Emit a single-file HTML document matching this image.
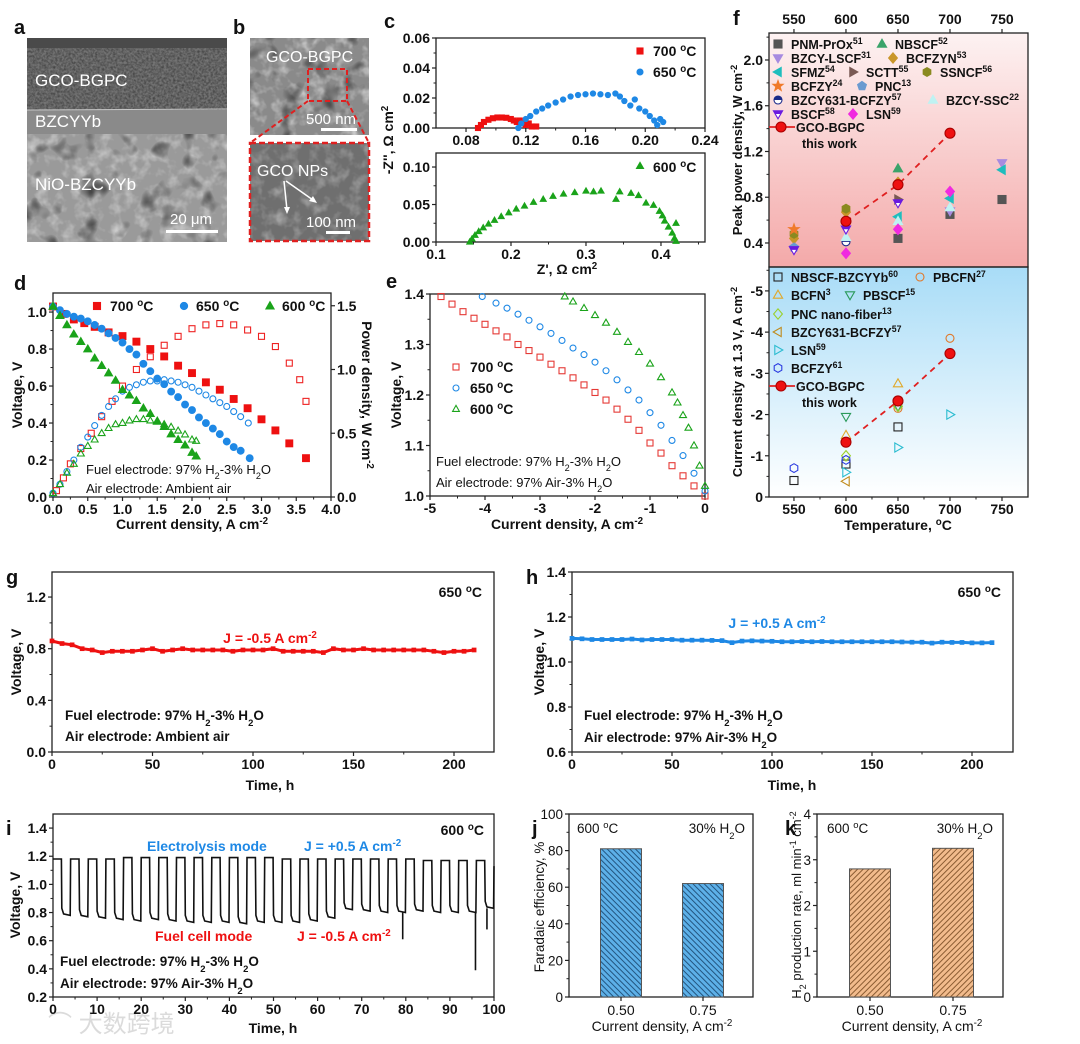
<!DOCTYPE html>
<html><head><meta charset="utf-8">
<style>
body{margin:0;background:#fff}
svg{display:block;font-family:"Liberation Sans",Arial,"Noto Sans CJK SC",sans-serif}
</style></head>
<body>
<svg id="fig" width="1080" height="1044" viewBox="0 0 1080 1044">
<defs>
 <filter id="fine" x="0" y="0" width="100%" height="100%"><feTurbulence type="fractalNoise" baseFrequency="0.45" numOctaves="2" seed="3"/><feColorMatrix type="matrix" values="0 0 0 0 0  0 0 0 0 0  0 0 0 0 0  0 0 0 -1.4 1.0"/></filter>
 <filter id="coarse" x="0" y="0" width="100%" height="100%"><feTurbulence type="fractalNoise" baseFrequency="0.08" numOctaves="3" seed="9"/><feColorMatrix type="matrix" values="0 0 0 0 1  0 0 0 0 1  0 0 0 0 1  0 0 0 -2.2 1.2"/></filter>
 <filter id="pores" x="0" y="0" width="100%" height="100%"><feTurbulence type="fractalNoise" baseFrequency="0.05" numOctaves="2" seed="21"/><feColorMatrix type="matrix" values="0 0 0 0 0  0 0 0 0 0  0 0 0 0 0  0 0 0 3 -1.7"/></filter>
 <linearGradient id="pinkg" x1="0" y1="0" x2="0" y2="1"><stop offset="0" stop-color="#fdf2f2"/><stop offset="1" stop-color="#f4a9a9"/></linearGradient>
 <linearGradient id="blueg" x1="0" y1="0" x2="0" y2="1"><stop offset="0" stop-color="#a8dcf7"/><stop offset="1" stop-color="#ffffff"/></linearGradient>
 <pattern id="hatchBlue" width="4" height="4" patternUnits="userSpaceOnUse" patternTransform="rotate(-45)"><rect width="4" height="4" fill="#5db0e8"/><line x1="1" y1="0" x2="1" y2="4" stroke="#23557f" stroke-width="1"/></pattern>
 <pattern id="hatchOrange" width="4" height="4" patternUnits="userSpaceOnUse" patternTransform="rotate(45)"><rect width="4" height="4" fill="#f2bb8c"/><line x1="1" y1="0" x2="1" y2="4" stroke="#8a5b32" stroke-width="1"/></pattern>
</defs>

<g>
 <rect x="27" y="38" width="200" height="204" fill="#8e8e8e"/>
 <rect x="27" y="38" width="200" height="10" fill="#4a4a4a"/>
 <rect x="27" y="48" width="200" height="62" fill="#747474"/>
 <rect x="27" y="110" width="200" height="24" fill="#8a8a8a"/>
 <rect x="27" y="134" width="200" height="108" fill="#9a9a9a"/>
 <rect x="27" y="48" width="200" height="62" filter="url(#fine)" opacity="0.5"/>
 <rect x="27" y="134" width="200" height="108" filter="url(#coarse)" opacity="0.5"/>
 <rect x="27" y="134" width="200" height="108" filter="url(#pores)" opacity="0.7"/>
 <line x1="27" y1="110" x2="227" y2="109" stroke="#c8c8c8" stroke-width="1"/>
 <text x="35" y="86" font-size="17" fill="#fff">GCO-BGPC</text>
 <text x="35" y="127" font-size="17" fill="#fff">BZCYYb</text>
 <text x="35" y="190" font-size="17" fill="#fff">NiO-BZCYYb</text>
 <text x="170" y="224" font-size="15" fill="#fff">20 μm</text>
 <rect x="166" y="230" width="52" height="3" fill="#fff"/>
</g>
<g>
 <rect x="250" y="38" width="119" height="97" fill="#8a8a8a"/>
 <rect x="250" y="38" width="119" height="97" filter="url(#coarse)" opacity="0.6"/>
 <rect x="250" y="38" width="119" height="97" filter="url(#pores)" opacity="0.6"/>
 <text x="266" y="62" font-size="16" fill="#fff">GCO-BGPC</text>
 <rect x="308" y="69" width="39" height="32" fill="none" stroke="#e02020" stroke-width="2" stroke-dasharray="5,3"/>
 <text x="306" y="124" font-size="15" fill="#fff">500 nm</text>
 <rect x="321" y="128" width="36" height="3" fill="#fff"/>
 <line x1="308" y1="101" x2="250" y2="143" stroke="#e02020" stroke-width="2" stroke-dasharray="5,3"/>
 <line x1="347" y1="101" x2="369" y2="143" stroke="#e02020" stroke-width="2" stroke-dasharray="5,3"/>
 <rect x="250" y="143" width="119" height="98" fill="#6f6f6f"/>
 <rect x="250" y="143" width="119" height="98" filter="url(#coarse)" opacity="0.35"/>
 <rect x="250" y="143" width="119" height="98" fill="none" stroke="#e02020" stroke-width="2.5" stroke-dasharray="6,3"/>
 <text x="257" y="176" font-size="16" fill="#fff">GCO NPs</text>
 <line x1="284" y1="181" x2="287" y2="210" stroke="#fff" stroke-width="1.5"/>
 <polygon points="287,214 284,207 290,207" fill="#fff"/>
 <line x1="286" y1="181" x2="313" y2="200" stroke="#fff" stroke-width="1.5"/>
 <polygon points="317,203 309,201 313,196" fill="#fff"/>
 <text x="306" y="227" font-size="15" fill="#fff">100 nm</text>
 <rect x="326" y="231" width="24" height="3" fill="#fff"/>
</g>
<g font-weight="bold" font-size="20" fill="#111">
 <text x="14" y="34">a</text>
 <text x="233" y="34">b</text>
 <text x="384" y="28">c</text>
 <text x="14" y="290">d</text>
 <text x="386" y="288">e</text>
 <text x="733" y="25">f</text>
 <text x="6" y="584">g</text>
 <text x="526" y="584">h</text>
 <text x="6" y="835">i</text>
 <text x="532" y="835">j</text>
 <text x="785" y="835">k</text>
</g>
<text x="48" y="1032" font-size="24" fill="#ccc" opacity="0.7">⌒ 大数跨境</text>
</svg>

<script>
const c700Z=[0.088,0.09,0.092,0.095,0.098,0.101,0.104,0.107,0.11,0.112,0.114,0.116,0.118,0.12,0.122,0.124,0.127];
const c700Y=[0.0,0.002,0.004,0.0055,0.0065,0.007,0.007,0.0068,0.006,0.005,0.004,0.005,0.003,0.002,0.003,0.001,0.001];
const c650Z=[0.115,0.117,0.12,0.123,0.127,0.131,0.135,0.14,0.145,0.15,0.155,0.16,0.165,0.17,0.175,0.18,0.183,0.186,0.19,0.193,0.196,0.2,0.203,0.206,0.208,0.21,0.212];
const c650Y=[0,0.003,0.006,0.008,0.011,0.013,0.015,0.017,0.019,0.021,0.022,0.0225,0.023,0.0225,0.022,0.023,0.021,0.018,0.015,0.019,0.013,0.011,0.008,0.005,0.002,0.006,0.004];
const c600Z=[0.145,0.148,0.152,0.157,0.163,0.17,0.178,0.187,0.197,0.207,0.218,0.23,0.243,0.256,0.27,0.285,0.3,0.31,0.32,0.34,0.345,0.36,0.37,0.38,0.39,0.398,0.402,0.405,0.41,0.415,0.418,0.42,0.42];
const c600Y=[0,0.004,0.009,0.014,0.019,0.024,0.029,0.034,0.039,0.044,0.048,0.053,0.057,0.061,0.064,0.066,0.068,0.067,0.068,0.057,0.067,0.065,0.062,0.052,0.049,0.041,0.035,0.028,0.02,0.012,0.005,0.025,0.001];
const dI700=[0,0.15,0.3,0.45,0.6,0.8,1.0,1.2,1.4,1.6,1.8,2.0,2.2,2.4,2.6,2.8,3.0,3.2,3.4,3.64];
const dV700=[1.03,0.99,0.96,0.94,0.92,0.89,0.87,0.84,0.80,0.76,0.71,0.67,0.62,0.58,0.53,0.48,0.42,0.36,0.29,0.21];
const dI650=[0,0.1,0.2,0.3,0.4,0.5,0.6,0.7,0.8,0.9,1.0,1.1,1.2,1.3,1.4,1.5,1.6,1.7,1.8,1.9,2.0,2.1,2.2,2.3,2.4,2.5,2.6,2.7,2.83];
const dV650=[1.03,1.01,0.99,0.975,0.965,0.95,0.93,0.91,0.885,0.86,0.835,0.80,0.77,0.72,0.68,0.64,0.61,0.57,0.54,0.50,0.47,0.43,0.40,0.37,0.34,0.30,0.27,0.25,0.21];
const dI600=[0,0.1,0.2,0.3,0.4,0.5,0.6,0.7,0.8,0.9,1.0,1.1,1.2,1.3,1.4,1.5,1.6,1.7,1.8,1.9,2.0,2.06];
const dV600=[1.03,0.98,0.93,0.88,0.84,0.80,0.75,0.71,0.67,0.63,0.58,0.55,0.52,0.48,0.45,0.41,0.38,0.34,0.31,0.28,0.24,0.22];
const dPI700=[0.05,0.15,0.25,0.4,0.55,0.7,0.85,1.0,1.2,1.4,1.6,1.8,2.0,2.2,2.4,2.6,2.8,3.0,3.2,3.4,3.55,3.64];
const dP700=[0.05,0.15,0.26,0.38,0.5,0.63,0.75,0.87,1.0,1.1,1.19,1.26,1.32,1.35,1.36,1.35,1.31,1.26,1.18,1.05,0.92,0.75];
const dPI650=[0,0.1,0.2,0.3,0.4,0.5,0.6,0.7,0.8,0.9,1.0,1.1,1.2,1.3,1.4,1.5,1.6,1.7,1.8,1.9,2.0,2.1,2.2,2.3,2.4,2.5,2.6,2.7,2.81];
const dP650=[0.03,0.10,0.20,0.29,0.39,0.47,0.56,0.64,0.71,0.77,0.83,0.86,0.88,0.90,0.91,0.91,0.92,0.91,0.90,0.88,0.86,0.83,0.80,0.77,0.74,0.71,0.67,0.63,0.58];
const dPI600=[0,0.1,0.2,0.3,0.4,0.5,0.6,0.7,0.8,0.9,1.0,1.1,1.2,1.3,1.4,1.5,1.6,1.7,1.8,1.9,2.0,2.06];
const dP600=[0.03,0.10,0.19,0.26,0.34,0.40,0.45,0.50,0.54,0.57,0.58,0.60,0.61,0.61,0.60,0.59,0.57,0.55,0.52,0.49,0.45,0.44];
const eI700=[-4.8,-4.6,-4.4,-4.2,-4.0,-3.8,-3.6,-3.4,-3.2,-3.0,-2.8,-2.6,-2.4,-2.2,-2.0,-1.8,-1.6,-1.4,-1.2,-1.0,-0.8,-0.6,-0.4,-0.2,0];
const eV700=[1.395,1.38,1.365,1.352,1.34,1.327,1.315,1.30,1.288,1.275,1.261,1.248,1.234,1.22,1.205,1.19,1.172,1.152,1.13,1.105,1.085,1.06,1.04,1.02,1.00];
const eI650=[-4.05,-3.8,-3.6,-3.4,-3.2,-3.0,-2.8,-2.6,-2.4,-2.2,-2.0,-1.8,-1.6,-1.4,-1.2,-1.0,-0.8,-0.6,-0.4,-0.2,0];
const eV650=[1.395,1.382,1.372,1.36,1.348,1.335,1.322,1.308,1.293,1.28,1.265,1.248,1.23,1.21,1.19,1.165,1.14,1.11,1.08,1.045,1.01];
const eI600=[-2.55,-2.4,-2.2,-2.0,-1.8,-1.6,-1.4,-1.2,-1.0,-0.8,-0.6,-0.5,-0.4,-0.3,-0.2,-0.1,0];
const eV600=[1.395,1.385,1.372,1.358,1.343,1.325,1.305,1.285,1.262,1.235,1.205,1.185,1.16,1.135,1.10,1.06,1.02];
const fPnmT=[650,700,750], fPnmV=[0.44,0.65,0.78];
const fNbscfT=[650], fNbscfV=[1.05];
const fBzcyLscfT=[700,750], fBzcyLscfV=[0.68,1.10];
const fBcfzynT=[550,600,650], fBcfzynV=[0.44,0.67,0.93];
const fSfmzT=[650,700,750], fSfmzV=[0.63,0.79,1.04];
const fScttT=[650], fScttV=[0.78];
const fSsncfT=[550,600], fSsncfV=[0.48,0.70];
const fBcfzyT=[550], fBcfzyV=[0.52];
const fPncT=[550], fPncV=[0.36];
const fBzcy631T=[600], fBzcy631V=[0.41];
const fBzcySscT=[600,650,700], fBzcySscV=[0.45,0.59,0.71];
const fBscfT=[550,600,650], fBscfV=[0.34,0.52,0.75];
const fLsnT=[600,650,700], fLsnV=[0.31,0.52,0.85];
const fGcoT=[600,650,700], fGcoV=[0.59,0.91,1.36];
const fbNbscfT=[550,600,650], fbNbscfV=[-0.4,-0.8,-1.7];
const fbPbcfnT=[650,700], fbPbcfnV=[-2.15,-3.85];
const fbBcfnT=[600,650], fbBcfnV=[-1.5,-2.75];
const fbPbscfT=[600,650], fbPbscfV=[-1.95,-2.2];
const fbPncT=[600,650], fbPncV=[-1.0,-2.2];
const fbBzcyT=[600], fbBzcyV=[-0.38];
const fbLsnT=[600,650,700], fbLsnV=[-0.6,-1.2,-2.0];
const fbBcfzyT=[550,600], fbBcfzyV=[-0.7,-0.9];
const fbGcoT=[600,650,700], fbGcoV=[-1.33,-2.33,-3.48];
const gTime=[0,5,10,15,20,25,30,35,40,45,50,55,60,65,70,75,80,85,90,95,100,105,110,115,120,125,130,135,140,145,150,155,160,165,170,175,180,185,190,195,200,205,210];
const gV=[0.86,0.84,0.83,0.80,0.79,0.77,0.78,0.78,0.78,0.79,0.80,0.78,0.79,0.80,0.79,0.79,0.79,0.79,0.78,0.79,0.79,0.79,0.80,0.78,0.78,0.78,0.78,0.77,0.80,0.79,0.79,0.80,0.79,0.79,0.79,0.79,0.79,0.79,0.78,0.77,0.78,0.78,0.79];
const hTime=gTime;
const hV=[1.105,1.103,1.10,1.10,1.10,1.10,1.102,1.098,1.10,1.10,1.10,1.097,1.097,1.097,1.096,1.095,1.086,1.093,1.094,1.093,1.092,1.09,1.09,1.091,1.09,1.091,1.09,1.09,1.09,1.09,1.09,1.09,1.09,1.089,1.088,1.088,1.084,1.088,1.087,1.087,1.085,1.085,1.086];
const iHigh=[1.18,1.18,1.18,1.18,1.19,1.19,1.19,1.19,1.19,1.19,1.19,1.19,1.19,1.18,1.18,1.18,1.18,1.18,1.18,1.18,1.18,1.17,1.17,1.17,1.17];
const iLow=[0.78,0.77,0.76,0.75,0.74,0.75,0.74,0.73,0.73,0.73,0.72,0.73,0.73,0.73,0.74,0.76,0.82,0.81,0.80,0.80,0.81,0.80,0.80,0.80,0.83];
const iSpikeT=[79.3,95.8,98.4];
const iSpikeV=[0.61,0.39,0.68];
const jCats=['0.50','0.75'];
const jVals=[81,62];
const kCats=['0.50','0.75'];
const kVals=[2.8,3.25];
const dXTicks=[0,0.5,1,1.5,2,2.5,3,3.5,4], dXLabels=['0.0','0.5','1.0','1.5','2.0','2.5','3.0','3.5','4.0'];
const dYTicks=[0,0.2,0.4,0.6,0.8,1.0], dYLabels=['0.0','0.2','0.4','0.6','0.8','1.0'];
const dY2Ticks=[0,0.5,1.0,1.5], dY2Labels=['0.0','0.5','1.0','1.5'];
const eXTicks=[-5,-4,-3,-2,-1,0], eXLabels=['-5','-4','-3','-2','-1','0'];
const eYTicks=[1.0,1.1,1.2,1.3,1.4], eYLabels=['1.0','1.1','1.2','1.3','1.4'];
const cTopXTicks=[0.08,0.12,0.16,0.2,0.24], cTopXLabels=['0.08','0.12','0.16','0.20','0.24'];
const cTopYTicks=[0,0.02,0.04,0.06], cTopYLabels=['0.00','0.02','0.04','0.06'];
const cBotXTicks=[0.1,0.2,0.3,0.4], cBotXLabels=['0.1','0.2','0.3','0.4'];
const cBotYTicks=[0,0.05,0.1], cBotYLabels=['0.00','0.05','0.10'];
const fXTicks=[550,600,650,700,750], fXLabels=['550','600','650','700','750'];
const fTopYTicks=[0.4,0.8,1.2,1.6,2.0], fTopYLabels=['0.4','0.8','1.2','1.6','2.0'];
const fBotYTicks=[0,-1,-2,-3,-4,-5], fBotYLabels=['0','-1','-2','-3','-4','-5'];
const gXTicks=[0,50,100,150,200], gXLabels=['0','50','100','150','200'];
const gYTicks=[0,0.4,0.8,1.2], gYLabels=['0.0','0.4','0.8','1.2'];
const hYTicks=[0.6,0.8,1.0,1.2,1.4], hYLabels=['0.6','0.8','1.0','1.2','1.4'];
const iXTicks=[0,10,20,30,40,50,60,70,80,90,100], iXLabels=['0','10','20','30','40','50','60','70','80','90','100'];
const iYTicks=[0.2,0.4,0.6,0.8,1.0,1.2,1.4], iYLabels=['0.2','0.4','0.6','0.8','1.0','1.2','1.4'];
const jYTicks=[0,20,40,60,80,100], jYLabels=['0','20','40','60','80','100'];
const kYTicks=[0,1,2,3,4], kYLabels=['0','1','2','3','4'];

const NS='http://www.w3.org/2000/svg';
const fig=document.getElementById('fig');
function mk(tag,attrs,name,parent){
  const e=document.createElementNS(NS,tag);
  for(const k in attrs) e.setAttribute(k,attrs[k]);
  
  
  (parent||fig).appendChild(e);
  return e;
}
function tx(x,y,html,size,name,opt){
  opt=opt||{};
  const a={x:x,y:y,'font-size':size,'font-weight':opt.w||'bold','text-anchor':opt.a||'start',fill:opt.fill||'#111'};
  if(opt.rot) a.transform='rotate('+opt.rot+' '+x+' '+y+')';
  const e=mk('text',a,name,opt.parent);
  e.innerHTML=html;
  return e;
}
const SUP=s=>'<tspan baseline-shift="super" font-size="70%">'+s+'</tspan>';
const SUB=s=>'<tspan baseline-shift="sub" font-size="70%">'+s+'</tspan>';
function axis(c){
  const sx=v=>c.x0+(v-c.xd[0])/(c.xd[1]-c.xd[0])*(c.x1-c.x0);
  const sy=v=>c.y1-(v-c.yd[0])/(c.yd[1]-c.yd[0])*(c.y1-c.y0);
  const g=mk('g',{},c.name+'-axes');
  mk('rect',{x:c.x0,y:c.y0,width:c.x1-c.x0,height:c.y1-c.y0,fill:'none',stroke:'#222','stroke-width':1.3},c.name+'-frame',g);
  const fs=c.fs||14;
  const yw=c.yw||'bold';
  (c.xt||[]).forEach((v,i)=>{const X=sx(v);
    mk('line',{x1:X,x2:X,y1:c.y1,y2:c.y1+4,stroke:'#222','stroke-width':1.2},c.name+'-x-tick',g);
    if(c.xl) tx(X,c.y1+17,c.xl[i],fs,c.name+'-x-tick-label',{a:'middle',parent:g});
    if(c.xm){const X2=sx(v+c.xm); if(X2<c.x1-1) mk('line',{x1:X2,x2:X2,y1:c.y1,y2:c.y1+2.5,stroke:'#222'},c.name+'-x-minor-tick',g);}
  });
  (c.yt||[]).forEach((v,i)=>{const Y=sy(v);
    mk('line',{x1:c.x0-4,x2:c.x0,y1:Y,y2:Y,stroke:'#222','stroke-width':1.2},c.name+'-y-tick',g);
    tx(c.x0-6,Y+5,c.yl[i],fs,c.name+'-y-tick-label',{a:'end',parent:g,w:yw});
    if(c.ym){const Y2=sy(v+c.ym); if(Y2>c.y0+1) mk('line',{x1:c.x0-2.5,x2:c.x0,y1:Y2,y2:Y2,stroke:'#222'},c.name+'-y-minor-tick',g);}
  });
  return {sx,sy};
}
function mark(shape,x,y,r,fill,stroke,name){
  const sw=1.1;
  let p;
  if(shape==='sq') return mk('rect',{x:x-r,y:y-r,width:2*r,height:2*r,fill:fill,stroke:stroke,'stroke-width':sw},name);
  if(shape==='ci') return mk('circle',{cx:x,cy:y,r:r,fill:fill,stroke:stroke,'stroke-width':sw},name);
  if(shape==='tu') p=[[x,y-r*1.2],[x-r*1.15,y+r*0.8],[x+r*1.15,y+r*0.8]];
  if(shape==='td') p=[[x,y+r*1.2],[x-r*1.15,y-r*0.8],[x+r*1.15,y-r*0.8]];
  if(shape==='tl') p=[[x-r*1.2,y],[x+r*0.8,y-r*1.15],[x+r*0.8,y+r*1.15]];
  if(shape==='tr') p=[[x+r*1.2,y],[x-r*0.8,y-r*1.15],[x-r*0.8,y+r*1.15]];
  if(shape==='di') p=[[x,y-r*1.3],[x+r*1.1,y],[x,y+r*1.3],[x-r*1.1,y]];
  if(shape==='hx'){p=[];for(let k=0;k<6;k++){const a=Math.PI/3*k+Math.PI/6;p.push([x+r*1.1*Math.cos(a),y+r*1.1*Math.sin(a)]);}}
  if(shape==='pe'){p=[];for(let k=0;k<5;k++){const a=-Math.PI/2+2*Math.PI/5*k;p.push([x+r*1.15*Math.cos(a),y+r*1.15*Math.sin(a)]);}}
  if(shape==='st'){p=[];for(let k=0;k<10;k++){const a=-Math.PI/2+Math.PI/5*k;const rr=k%2?r*0.55:r*1.35;p.push([x+rr*Math.cos(a),y+rr*Math.sin(a)]);}}
  if(shape==='hc'){
    const g=mk('g',{},name);
    mk('circle',{cx:x,cy:y,r:r,fill:'#fff',stroke:stroke,'stroke-width':sw},name+'-outline',g);
    mk('path',{d:`M${x-r} ${y} A${r} ${r} 0 0 1 ${x+r} ${y} Z`,fill:fill},name+'-half',g);
    return g;
  }
  if(shape==='ht'){
    const g=mk('g',{},name);
    mk('polygon',{points:`${x},${y+r*1.2} ${x-r*1.15},${y-r*0.8} ${x+r*1.15},${y-r*0.8}`,fill:'#fff',stroke:stroke,'stroke-width':sw},name+'-outline',g);
    mk('polygon',{points:`${x-r*1.15},${y-r*0.8} ${x+r*1.15},${y-r*0.8} ${x+r*0.6},${y} ${x-r*0.6},${y}`,fill:fill},name+'-half',g);
    return g;
  }
  return mk('polygon',{points:p.map(q=>q[0].toFixed(1)+','+q[1].toFixed(1)).join(' '),fill:fill,stroke:stroke,'stroke-width':sw},name);
}
function series(ax,xs,ys,shape,r,fill,stroke,name){
  xs.forEach((v,i)=>{ mark(shape,ax.sx(v),ax.sy(ys[i]),r,fill,stroke,name+'-point'); });
}

// panel c
const cTop=axis({name:'panel-c-top',x0:436,x1:705,y0:38,y1:128,xd:[0.0599,0.24],yd:[0,0.06],xt:cTopXTicks,xl:cTopXLabels,xm:0.02,yt:cTopYTicks,yl:cTopYLabels,ym:0.01});
series(cTop,c700Z,c700Y,'sq',2.5,'#ee1111','#ee1111','nyquist-700');
series(cTop,c650Z,c650Y,'ci',2.6,'#1e88e5','#1e88e5','nyquist-650');
mark('sq',640,51,3,'#ee1111','#ee1111','legend-c-700-marker');
tx(653,56,'700 '+SUP('o')+'C',14,'legend-c-700');
mark('ci',640,72,3,'#1e88e5','#1e88e5','legend-c-650-marker');
tx(653,77,'650 '+SUP('o')+'C',14,'legend-c-650');
const cBot=axis({name:'panel-c-bottom',x0:436,x1:705,y0:153,y1:242,xd:[0.1,0.4587],yd:[0,0.1187],xt:cBotXTicks,xl:cBotXLabels,xm:0.05,yt:cBotYTicks,yl:cBotYLabels,ym:0.025});
series(cBot,c600Z,c600Y,'tu',2.6,'#1aa31a','#1aa31a','nyquist-600');
mark('tu',640,166,3,'#1aa31a','#1aa31a','legend-c-600-marker');
tx(653,172,'600 '+SUP('o')+'C',14,'legend-c-600');
tx(393,140,'-Z\'\', Ω cm'+SUP('2'),14,'c-y-axis-title',{a:'middle',rot:-90});
tx(567,274,'Z\', Ω cm'+SUP('2'),14,'c-x-axis-title',{a:'middle'});

// panel d
const dAx=axis({name:'panel-d',x0:53,x1:331,y0:293,y1:497,xd:[0,4],yd:[0,1.103],xt:dXTicks,xl:dXLabels,xm:0.25,yt:dYTicks,yl:dYLabels,ym:0.1});
const dP={sx:dAx.sx,sy:v=>497-v*127.5};
dY2Ticks.forEach((v,i)=>{const Y=dP.sy(v);
  mk('line',{x1:331,x2:335,y1:Y,y2:Y,stroke:'#222','stroke-width':1.2},'panel-d-y2-tick');
  tx(337,Y+5,dY2Labels[i],14,'panel-d-y2-tick-label');
});
series(dP,dPI700,dP700,'sq',3,'none','#ee2222','power-700');
series(dP,dPI650,dP650,'ci',3,'none','#1e88e5','power-650');
series(dP,dPI600,dP600,'tu',3,'none','#1aa31a','power-600');
series(dAx,dI700,dV700,'sq',3.4,'#ee1111','#ee1111','iv-700');
series(dAx,dI650,dV650,'ci',3.4,'#1e88e5','#1e88e5','iv-650');
series(dAx,dI600,dV600,'tu',3.4,'#1aa31a','#1aa31a','iv-600');
mark('sq',97,306,3.5,'#ee1111','#ee1111','legend-d-700-marker');
tx(110,311,'700 '+SUP('o')+'C',14,'legend-d-700');
mark('ci',184,306,3.6,'#1e88e5','#1e88e5','legend-d-650-marker');
tx(196,311,'650 '+SUP('o')+'C',14,'legend-d-650');
mark('tu',270,306,3.6,'#1aa31a','#1aa31a','legend-d-600-marker');
tx(282,311,'600 '+SUP('o')+'C',14,'legend-d-600');
tx(86,474,'Fuel electrode: 97% H'+SUB('2')+'-3% H'+SUB('2')+'O',13,'d-fuel-electrode-note',{w:'normal'});
tx(86,493,'Air electrode: Ambient air',13,'d-air-electrode-note',{w:'normal'});
tx(22,395,'Voltage, V',14,'d-y-axis-title',{a:'middle',rot:-90});
tx(362,395,'Power density, W cm'+SUP('-2'),14,'d-y2-axis-title',{a:'middle',rot:90});
tx(192,529,'Current density, A cm'+SUP('-2'),14,'d-x-axis-title',{a:'middle'});

// panel e
const eAx=axis({name:'panel-e',x0:430,x1:705,y0:294,y1:496,xd:[-5,0],yd:[1.0,1.4],xt:eXTicks,xl:eXLabels,xm:0.5,yt:eYTicks,yl:eYLabels,ym:0.05});
series(eAx,eI700,eV700,'sq',3,'none','#e53935','elec-700');
series(eAx,eI650,eV650,'ci',3,'none','#1e88e5','elec-650');
series(eAx,eI600,eV600,'tu',3,'none','#1aa31a','elec-600');
mark('sq',456,367,3,'none','#e53935','legend-e-700-marker');
tx(470,372,'700 '+SUP('o')+'C',14,'legend-e-700');
mark('ci',456,388,3,'none','#1e88e5','legend-e-650-marker');
tx(470,393,'650 '+SUP('o')+'C',14,'legend-e-650');
mark('tu',456,409,3,'none','#1aa31a','legend-e-600-marker');
tx(470,414,'600 '+SUP('o')+'C',14,'legend-e-600');
tx(436,466,'Fuel electrode: 97% H'+SUB('2')+'-3% H'+SUB('2')+'O',13,'e-fuel-electrode-note',{w:'normal'});
tx(436,487,'Air electrode: 97% Air-3% H'+SUB('2')+'O',13,'e-air-electrode-note',{w:'normal'});
tx(401,395,'Voltage, V',14,'e-y-axis-title',{a:'middle',rot:-90});
tx(567,529,'Current density, A cm'+SUP('-2'),14,'e-x-axis-title',{a:'middle'});

// panel f
mk('rect',{x:769,y:33,width:259,height:234,fill:'url(#pinkg)'},'f-top-background');
mk('rect',{x:769,y:267,width:259,height:230,fill:'url(#blueg)'},'f-bottom-background');
const fTop=axis({name:'panel-f-top',x0:769,x1:1028,y0:33,y1:267,xd:[526,775],yd:[0.19,2.236],yt:fTopYTicks,yl:fTopYLabels,ym:0.2});
const fBot=axis({name:'panel-f-bottom',x0:769,x1:1028,y0:267,y1:497,xd:[526,775],yd:[0,-5.58],xt:fXTicks,xl:fXLabels,xm:25,yt:fBotYTicks,yl:fBotYLabels,ym:-0.5});
fXTicks.forEach((v,i)=>{const X=fTop.sx(v);
  mk('line',{x1:X,x2:X,y1:33,y2:29,stroke:'#222','stroke-width':1.2},'panel-f-top-x-tick');
  tx(X,24,fXLabels[i],14,'panel-f-top-x-tick-label',{a:'middle'});
});
const fTopSeries=[
 [fPnmT,fPnmV,'sq','#555','#555','pnm-prox','PNM-PrOx'+SUP('51'),778,44],
 [fNbscfT,fNbscfV,'tu','#3aa36a','#3aa36a','nbscf','NBSCF'+SUP('52'),882,44],
 [fBzcyLscfT,fBzcyLscfV,'td','#a78be0','#a78be0','bzcy-lscf','BZCY-LSCF'+SUP('31'),778,58],
 [fBcfzynT,fBcfzynV,'di','#c9962a','#c9962a','bcfzyn','BCFZYN'+SUP('53'),893,58],
 [fSfmzT,fSfmzV,'tl','#1fbdbd','#1fbdbd','sfmz','SFMZ'+SUP('54'),778,72],
 [fScttT,fScttV,'tr','#7a5a55','#7a5a55','sctt','SCTT'+SUP('55'),853,72],
 [fSsncfT,fSsncfV,'hx','#8a8a20','#8a8a20','ssncf','SSNCF'+SUP('56'),927,72],
 [fBcfzyT,fBcfzyV,'st','#f07a2a','#f07a2a','bcfzy','BCFZY'+SUP('24'),778,86],
 [fPncT,fPncV,'pe','#6a9ad0','#6a9ad0','pnc','PNC'+SUP('13'),862,86],
 [fBzcy631T,fBzcy631V,'hc','#1a2a8a','#1a2a8a','bzcy631-bcfzy','BZCY631-BCFZY'+SUP('57'),778,100],
 [fBzcySscT,fBzcySscV,'tu','#bff2f2','#bff2f2','bzcy-ssc','BZCY-SSC'+SUP('22'),933,100],
 [fBscfT,fBscfV,'ht','#6a1ae0','#6a1ae0','bscf','BSCF'+SUP('58'),778,114],
 [fLsnT,fLsnV,'di','#f02ae0','#f02ae0','lsn','LSN'+SUP('59'),853,114]
];
fTopSeries.forEach(s=>{
  series(fTop,s[0],s[1],s[2],4,s[3],s[4],'f-top-'+s[5]);
  mark(s[2],s[7],s[8],4,s[3],s[4],'legend-f-'+s[5]+'-marker');
  tx(s[7]+13,s[8]+5,s[6],12.5,'legend-f-'+s[5]);
});
let gp=fGcoT.map((t,i)=>(i?'L':'M')+fTop.sx(t).toFixed(1)+' '+fTop.sy(fGcoV[i]).toFixed(1)).join(' ');
mk('path',{d:gp,fill:'none',stroke:'#e02020','stroke-width':1.8,'stroke-dasharray':'6,5'},'f-top-gco-trend-line');
series(fTop,fGcoT,fGcoV,'ci',5,'#ee1111','#a00','f-top-gco-bgpc');
mk('line',{x1:769,x2:795,y1:127,y2:127,stroke:'#e02020','stroke-width':1.8},'legend-f-gco-line');
mark('ci',781,127,5,'#ee1111','#a00','legend-f-gco-marker');
tx(796,132,'GCO-BGPC',12.5,'legend-f-gco');
tx(802,148,'this work',12.5,'legend-f-gco-this-work');
const fBotSeries=[
 [fbNbscfT,fbNbscfV,'sq','none','#222','nbscf-bzcyyb','NBSCF-BZCYYb'+SUP('60'),778,277],
 [fbPbcfnT,fbPbcfnV,'ci','none','#e0782a','pbcfn','PBCFN'+SUP('27'),920,277],
 [fbBcfnT,fbBcfnV,'tu','none','#e0a82a','bcfn','BCFN'+SUP('3'),778,295],
 [fbPbscfT,fbPbscfV,'td','none','#2a9a5a','pbscf','PBSCF'+SUP('15'),850,295],
 [fbPncT,fbPncV,'di','none','#9ad02a','pnc-nanofiber','PNC nano-fiber'+SUP('13'),778,314],
 [fbBzcyT,fbBzcyV,'tl','none','#c08a1a','bzcy631-bcfzy-b','BZCY631-BCFZY'+SUP('57'),778,332],
 [fbLsnT,fbLsnV,'tr','none','#2abcd0','lsn-b','LSN'+SUP('59'),778,350],
 [fbBcfzyT,fbBcfzyV,'hx','none','#2a3ae0','bcfzy-b','BCFZY'+SUP('61'),778,368]
];
fBotSeries.forEach(s=>{
  series(fBot,s[0],s[1],s[2],4,s[3],s[4],'f-bottom-'+s[5]);
  mark(s[2],s[7],s[8],4,s[3],s[4],'legend-f-'+s[5]+'-marker');
  tx(s[7]+13,s[8]+5,s[6],12.5,'legend-f-'+s[5]);
});
gp=fbGcoT.map((t,i)=>(i?'L':'M')+fBot.sx(t).toFixed(1)+' '+fBot.sy(fbGcoV[i]).toFixed(1)).join(' ');
mk('path',{d:gp,fill:'none',stroke:'#e02020','stroke-width':1.8,'stroke-dasharray':'6,5'},'f-bottom-gco-trend-line');
series(fBot,fbGcoT,fbGcoV,'ci',5,'#ee1111','#a00','f-bottom-gco-bgpc');
mk('line',{x1:769,x2:795,y1:386,y2:386,stroke:'#e02020','stroke-width':1.8},'legend-f-gco-b-line');
mark('ci',781,386,5,'#ee1111','#a00','legend-f-gco-b-marker');
tx(796,391,'GCO-BGPC',12.5,'legend-f-gco-b');
tx(802,407,'this work',12.5,'legend-f-gco-b-this-work');
tx(742,150,'Peak power density, W cm'+SUP('-2'),13,'f-top-y-axis-title',{a:'middle',rot:-90});
tx(742,382,'Current density at 1.3 V, A cm'+SUP('-2'),13,'f-bottom-y-axis-title',{a:'middle',rot:-90});
tx(898,530,'Temperature, '+SUP('o')+'C',14,'f-x-axis-title',{a:'middle'});

// panel g
const gAx=axis({name:'panel-g',x0:52,x1:494,y0:572,y1:752,xd:[0,219.9],yd:[0,1.394],xt:gXTicks,xl:gXLabels,xm:25,yt:gYTicks,yl:gYLabels,ym:0.2});
mk('path',{d:gTime.map((t,i)=>(i?'L':'M')+gAx.sx(t).toFixed(1)+' '+gAx.sy(gV[i]).toFixed(1)).join(' '),fill:'none',stroke:'#ee1111','stroke-width':3},'g-voltage-line');
series(gAx,gTime,gV,'sq',1.8,'#ee1111','#ee1111','g-voltage');
tx(482,597,'650 '+SUP('o')+'C',14,'g-temperature-note',{a:'end'});
tx(270,643,'J = -0.5 A cm'+SUP('-2'),14,'g-current-note',{a:'middle',fill:'#ee1111'});
tx(65,720,'Fuel electrode: 97% H'+SUB('2')+'-3% H'+SUB('2')+'O',13.5,'g-fuel-electrode-note');
tx(65,741,'Air electrode: Ambient air',13.5,'g-air-electrode-note');
tx(21,662,'Voltage, V',14,'g-y-axis-title',{a:'middle',rot:-90});
tx(270,790,'Time, h',14,'g-x-axis-title',{a:'middle'});

// panel h
const hAx=axis({name:'panel-h',x0:572,x1:1013,y0:572,y1:752,xd:[0,220.5],yd:[0.6,1.4],xt:gXTicks,xl:gXLabels,xm:25,yt:hYTicks,yl:hYLabels,ym:0.1});
mk('path',{d:hTime.map((t,i)=>(i?'L':'M')+hAx.sx(t).toFixed(1)+' '+hAx.sy(hV[i]).toFixed(1)).join(' '),fill:'none',stroke:'#1e88e5','stroke-width':3},'h-voltage-line');
series(hAx,hTime,hV,'sq',1.8,'#1e88e5','#1e88e5','h-voltage');
tx(1001,597,'650 '+SUP('o')+'C',14,'h-temperature-note',{a:'end'});
tx(777,628,'J = +0.5 A cm'+SUP('-2'),14,'h-current-note',{a:'middle',fill:'#1e88e5'});
tx(584,720,'Fuel electrode: 97% H'+SUB('2')+'-3% H'+SUB('2')+'O',13.5,'h-fuel-electrode-note');
tx(584,742,'Air electrode: 97% Air-3% H'+SUB('2')+'O',13.5,'h-air-electrode-note');
tx(544,662,'Voltage, V',14,'h-y-axis-title',{a:'middle',rot:-90});
tx(792,790,'Time, h',14,'h-x-axis-title',{a:'middle'});

// panel i
const iAx=axis({name:'panel-i',x0:53,x1:494,y0:814,y1:997,xd:[0,100],yd:[0.2,1.5],xt:iXTicks,xl:iXLabels,xm:5,yt:iYTicks,yl:iYLabels,ym:0.1});
let ip='';
iHigh.forEach((h,k)=>{
  const t0=4*k, lo=iLow[k];
  const pts=[[t0,h],[t0+1.9,h],[t0+2.0,lo+0.05],[t0+2.4,lo+0.01],[t0+3.9,lo]];
  pts.forEach((q,j)=>{ ip+=((k===0&&j===0)?'M':'L')+iAx.sx(q[0]).toFixed(1)+' '+iAx.sy(q[1]).toFixed(1)+' '; });
});
ip+='L'+iAx.sx(100).toFixed(1)+' '+iAx.sy(1.13).toFixed(1);
mk('path',{d:ip,fill:'none',stroke:'#111','stroke-width':1.6},'i-cycling-voltage-line');
iSpikeT.forEach((t,i)=>{
  const k=Math.floor(t/4);
  mk('line',{x1:iAx.sx(t),x2:iAx.sx(t),y1:iAx.sy(iLow[k]),y2:iAx.sy(iSpikeV[i]),stroke:'#111','stroke-width':1.6},'i-voltage-spike');
});
tx(484,835,'600 '+SUP('o')+'C',14,'i-temperature-note',{a:'end'});
tx(147,851,'Electrolysis mode',14,'i-electrolysis-mode-label',{fill:'#1e88e5'});
tx(304,851,'J = +0.5 A cm'+SUP('-2'),14,'i-electrolysis-current-label',{fill:'#1e88e5'});
tx(155,941,'Fuel cell mode',14,'i-fuel-cell-mode-label',{fill:'#ee1111'});
tx(297,941,'J = -0.5 A cm'+SUP('-2'),14,'i-fuel-cell-current-label',{fill:'#ee1111'});
tx(60,966,'Fuel electrode: 97% H'+SUB('2')+'-3% H'+SUB('2')+'O',13.5,'i-fuel-electrode-note');
tx(60,988,'Air electrode: 97% Air-3% H'+SUB('2')+'O',13.5,'i-air-electrode-note');
tx(20,905,'Voltage, V',14,'i-y-axis-title',{a:'middle',rot:-90});
tx(273,1033,'Time, h',14,'i-x-axis-title',{a:'middle'});

// panels j, k
function barPanel(nm,x0,x1,yd,yt,yl,ym,cats,vals,centers,fill){
  const ax=axis({name:nm,x0:x0,x1:x1,y0:814,y1:997,xd:[0,1],yd:yd,yt:yt,yl:yl,ym:ym,fs:13.5,yw:'normal'});
  cats.forEach((c,i)=>{
    const X=centers[i];
    mk('rect',{x:X-20.5,y:ax.sy(vals[i]),width:41,height:997-ax.sy(vals[i]),fill:fill,stroke:'#555','stroke-width':1},nm+'-bar-'+c);
    mk('line',{x1:X,x2:X,y1:997,y2:1001,stroke:'#222','stroke-width':1.2},nm+'-x-tick');
    tx(X,1015,c,14,nm+'-x-tick-label',{a:'middle',w:'normal'});
  });
  return ax;
}
barPanel('panel-j',569,753,[0,100],jYTicks,jYLabels,10,jCats,jVals,[621,703],'url(#hatchBlue)');
barPanel('panel-k',817,1003,[0,4],kYTicks,kYLabels,0.5,kCats,kVals,[870,953],'url(#hatchOrange)');
tx(577,833,'600 '+SUP('o')+'C',13.5,'j-temperature-note',{w:'normal'});
tx(745,833,'30%  H'+SUB('2')+'O',13.5,'j-humidity-note',{a:'end',w:'normal'});
tx(544,907,'Faradaic efficiency, %',13.5,'j-y-axis-title',{a:'middle',rot:-90,w:'normal'});
tx(662,1031,'Current density, A cm'+SUP('-2'),14,'j-x-axis-title',{a:'middle',w:'normal'});
tx(827,833,'600 '+SUP('o')+'C',13.5,'k-temperature-note',{w:'normal'});
tx(993,833,'30%  H'+SUB('2')+'O',13.5,'k-humidity-note',{a:'end',w:'normal'});
tx(801,905,'H'+SUB('2')+' production rate, ml min'+SUP('-1')+' cm'+SUP('-2'),13,'k-y-axis-title',{a:'middle',rot:-90,w:'normal'});
tx(912,1031,'Current density, A cm'+SUP('-2'),14,'k-x-axis-title',{a:'middle',w:'normal'});
</script>
</body></html>
